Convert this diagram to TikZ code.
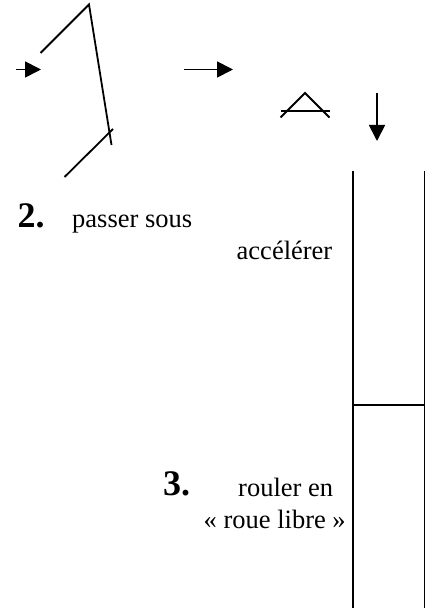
\documentclass[tikz,border=0pt]{standalone}
\usepackage{fontspec}
\setmainfont{Liberation Serif}
\usetikzlibrary{arrows.meta}
\tikzset{
	lbl/.style = {anchor = base west, inner sep = 0pt, font = \fontsize{26.5}{30}\selectfont},
	num/.style = {anchor = base west, inner sep = 0pt, font = \fontsize{36}{40}\selectfont\bfseries},
	trait/.style = {black, line width = 1.8pt}
}
\begin{document}
\begin{tikzpicture}[x = 1pt, y = -1pt, >={Triangle[length = 16pt, width = 16pt]}]
	\useasboundingbox (0, 0) rectangle (425, 612);
	
	%	points
	\coordinate (a1) at (40.5, 53);
	\coordinate (a2) at (89, 4.5);
	\coordinate (a3) at (111.5, 145);
	\coordinate (b1) at (64.5, 177);
	\coordinate (b2) at (113, 129);
	\coordinate (c1) at (16, 69.5);
	\coordinate (c2) at (41, 69.5);
	\coordinate (d1) at (184, 69.5);
	\coordinate (d2) at (233, 69.5);
	\coordinate (e1) at (280.5, 117.5);
	\coordinate (e2) at (305, 93);
	\coordinate (e3) at (329.5, 117.5);
	\coordinate (f1) at (280.5, 111);
	\coordinate (f2) at (330, 111);
	\coordinate (g1) at (377, 93);
	\coordinate (g2) at (377, 141);
	\coordinate (h1) at (353, 171);
	\coordinate (h2) at (353, 608);
	\coordinate (i1) at (424.4, 171);
	\coordinate (i2) at (424.4, 608);
	\coordinate (j1) at (353, 405);
	\coordinate (j2) at (424.4, 405);
	
	%	traits
	\draw[trait] (a1) -- (a2) -- (a3);
	\draw[trait] (b1) -- (b2);
	\draw[trait] (e1) -- (e2) -- (e3);
	\draw[trait] (f1) -- (f2);
	\draw[trait] (h1) -- (h2);
	\draw[trait] (i1) -- (i2);
	\draw[trait] (j1) -- (j2);
	
	%	fleches
	\draw[->, trait] (c1) -- (c2);
	\draw[->, trait] (d1) -- (d2);
	\draw[->, trait] (g1) -- (g2);
	
	%	textes
	\node[num] (deux) at (17.5, 227.5) {2.};
	\node[lbl] (passer) at (72, 227) {passer sous};
	\node[lbl] (accel) at (236.5, 259.5) {accélérer};
	\node[num] (trois) at (163, 495) {3.};
	\node[lbl] (rouler) at (238, 496) {rouler en};
	\node[lbl] (roue) at (203.5, 528) {« roue libre »};
\end{tikzpicture}
\end{document}
